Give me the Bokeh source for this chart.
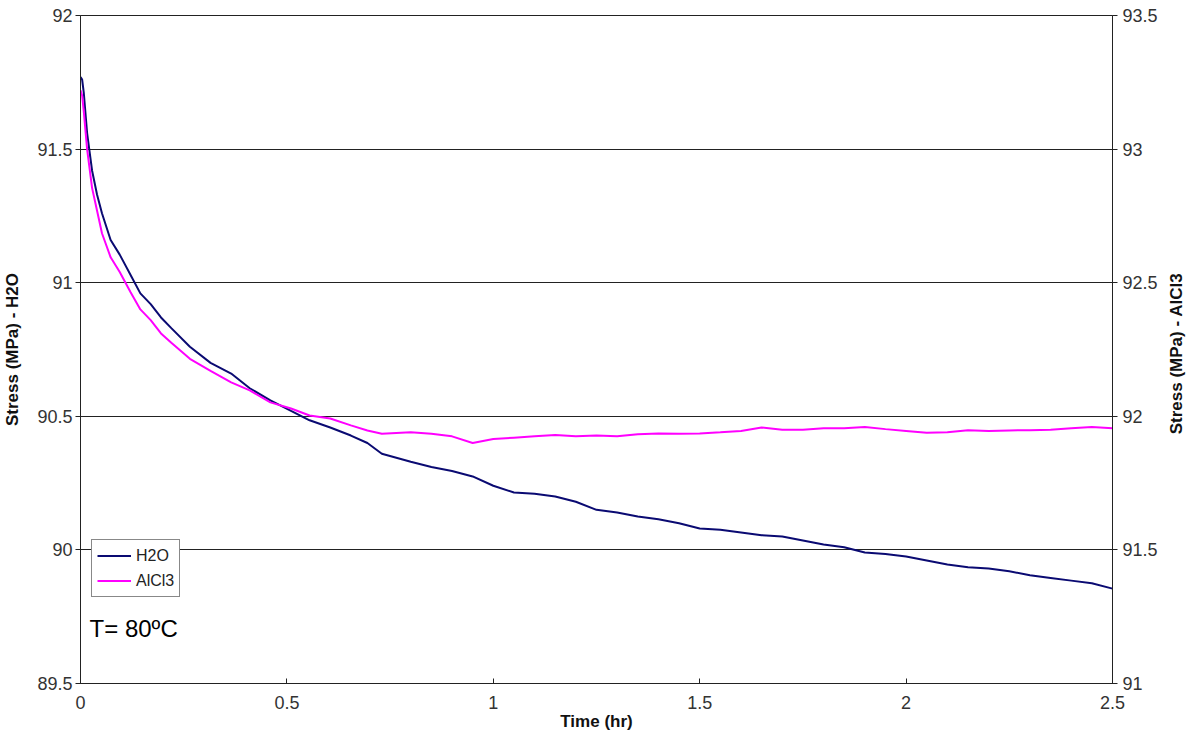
import math
from bokeh.plotting import figure
from bokeh.models import (Range1d, LinearAxis, FixedTicker, NumeralTickFormatter,
                          Legend, LegendItem, Label)
from bokeh.embed import file_html
from bokeh.resources import INLINE

# ---- data ----
time_hr = [0, 0.004, 0.008, 0.016, 0.028, 0.04, 0.052, 0.073, 0.095, 0.121,
           0.145, 0.17, 0.195, 0.22, 0.265, 0.315, 0.365, 0.41, 0.46, 0.51,
           0.555, 0.605, 0.655, 0.695, 0.73, 0.8, 0.85, 0.9, 0.95, 1.0,
           1.05, 1.1, 1.15, 1.2, 1.25, 1.3, 1.35, 1.4, 1.45, 1.5,
           1.55, 1.6, 1.65, 1.7, 1.75, 1.8, 1.85, 1.9, 1.95, 2.0,
           2.05, 2.1, 2.15, 2.2, 2.25, 2.3, 2.35, 2.4, 2.45, 2.5]

stress_h2o = [91.77, 91.76, 91.71, 91.56, 91.42, 91.33, 91.26, 91.16, 91.105, 91.03,
              90.96, 90.92, 90.87, 90.83, 90.76, 90.70, 90.66, 90.605, 90.56, 90.52,
              90.485, 90.458, 90.428, 90.40, 90.36, 90.33, 90.31, 90.295, 90.275, 90.24,
              90.215, 90.21, 90.20, 90.18, 90.15, 90.14, 90.125, 90.115, 90.10, 90.08,
              90.075, 90.065, 90.055, 90.05, 90.035, 90.02, 90.01, 89.99, 89.985, 89.975,
              89.96, 89.945, 89.935, 89.93, 89.92, 89.905, 89.895, 89.885, 89.875, 89.855]

stress_alcl3 = [93.22, 93.20, 93.14, 93.00, 92.855, 92.77, 92.685, 92.595, 92.54, 92.465,
                92.40, 92.36, 92.31, 92.275, 92.215, 92.17, 92.127, 92.097, 92.052, 92.029,
                92.003, 91.992, 91.966, 91.947, 91.935, 91.94, 91.935, 91.925, 91.90, 91.915,
                91.92, 91.925, 91.93, 91.925, 91.928, 91.925, 91.933, 91.936, 91.935, 91.936,
                91.94, 91.945, 91.958, 91.95, 91.95, 91.955, 91.955, 91.96, 91.952, 91.945,
                91.938, 91.94, 91.948, 91.945, 91.947, 91.948, 91.95, 91.955, 91.96, 91.955]

x_ticks = [0, 0.5, 1, 1.5, 2, 2.5]
left_ticks = [89.5, 90, 90.5, 91, 91.5, 92]
right_ticks = [91, 91.5, 92, 92.5, 93, 93.5]

series_names = ["H2O", "AlCl3"]
series_colors = ["#0a0a72", "#ff00ff"]
left_title = "Stress (MPa) - H2O"
right_title = "Stress (MPa) - AlCl3"
x_title = "Time (hr)"
note = "T= 80ºC"

FONT = "Liberation Sans"
TICK_COLOR = "#333333"
TITLE_COLOR = "#111111"
LINE_COLOR = "#222222"

p = figure(width=1187, height=736, output_backend="svg", toolbar_location=None,
           x_range=Range1d(0, 2.5), y_range=Range1d(89.5, 92),
           min_border_left=80, min_border_right=75, min_border_top=15,
           min_border_bottom=53)
p.extra_y_ranges = {"right": Range1d(91, 93.5)}
p.background_fill_color = "white"
p.border_fill_color = "white"
p.outline_line_color = LINE_COLOR
p.outline_line_width = 1

# grid
p.xgrid.grid_line_color = None
p.ygrid.grid_line_color = LINE_COLOR
p.ygrid.grid_line_width = 1
p.ygrid.ticker = FixedTicker(ticks=left_ticks)

# x axis
xa = p.xaxis[0]
xa.ticker = FixedTicker(ticks=x_ticks)
xa.formatter = NumeralTickFormatter(format="0.[0]")
xa.axis_label = x_title
xa.axis_label_text_font = FONT
xa.axis_label_text_font_style = "bold"
xa.axis_label_text_font_size = "17px"
xa.axis_label_text_color = TITLE_COLOR
xa.axis_label_standoff = 0
xa.major_label_text_font = FONT
xa.major_label_text_font_size = "18px"
xa.major_label_text_color = TICK_COLOR
xa.major_label_standoff = 12
xa.major_tick_in = 5
xa.major_tick_out = 0
xa.minor_tick_line_color = None
xa.axis_line_color = LINE_COLOR
xa.major_tick_line_color = LINE_COLOR

# left axis
ya = p.yaxis[0]
ya.ticker = FixedTicker(ticks=left_ticks)
ya.formatter = NumeralTickFormatter(format="0.[0]")
ya.axis_label = left_title
ya.axis_label_text_font = FONT
ya.axis_label_text_font_style = "bold"
ya.axis_label_text_font_size = "17px"
ya.axis_label_text_color = TITLE_COLOR
ya.axis_label_standoff = 12
ya.major_label_text_font = FONT
ya.major_label_text_font_size = "18px"
ya.major_label_text_color = TICK_COLOR
ya.major_label_standoff = 3
ya.major_tick_in = 0
ya.major_tick_out = 5
ya.minor_tick_line_color = None
ya.axis_line_color = LINE_COLOR
ya.major_tick_line_color = LINE_COLOR

# right axis (its title is drawn as a rotated label below)
ra = LinearAxis(y_range_name="right")
ra.ticker = FixedTicker(ticks=right_ticks)
ra.formatter = NumeralTickFormatter(format="0.[0]")
ra.major_label_text_font = FONT
ra.major_label_text_font_size = "18px"
ra.major_label_text_color = TICK_COLOR
ra.major_label_standoff = 5
ra.major_tick_in = 0
ra.major_tick_out = 5
ra.minor_tick_line_color = None
ra.axis_line_color = LINE_COLOR
ra.major_tick_line_color = LINE_COLOR
p.add_layout(ra, "right")

# data lines
r_h2o = p.line(time_hr, stress_h2o, line_color=series_colors[0], line_width=2)
r_alcl3 = p.line(time_hr, stress_alcl3, line_color=series_colors[1], line_width=2,
                 y_range_name="right")

legend = Legend(items=[LegendItem(label=series_names[0], renderers=[r_h2o]),
                       LegendItem(label=series_names[1], renderers=[r_alcl3])],
                location=(11, 86), orientation="vertical",
                border_line_color="#111111", border_line_width=1,
                background_fill_color="white", background_fill_alpha=1,
                label_text_font=FONT, label_text_font_size="16px",
                label_text_color="#222222",
                glyph_width=34, glyph_height=21, label_height=21,
                label_standoff=5, spacing=4, padding=5, margin=0)
p.add_layout(legend)

p.add_layout(Label(x=0.022, y=89.706, text=note, text_font=FONT,
                   text_font_size="24px", text_color="black",
                   text_baseline="middle", text_align="left"))

# right axis title, reading bottom-to-top like the left one; placed in the
# right side panel so that it is not clipped to the plot frame
p.add_layout(Label(x=2.656, y=90.735, text=right_title, angle=math.pi / 2,
                   text_font=FONT, text_font_size="17px", text_font_style="bold",
                   text_color=TITLE_COLOR, text_align="center",
                   text_baseline="middle"), "right")

open("out.html", "w").write(file_html(p, INLINE))
